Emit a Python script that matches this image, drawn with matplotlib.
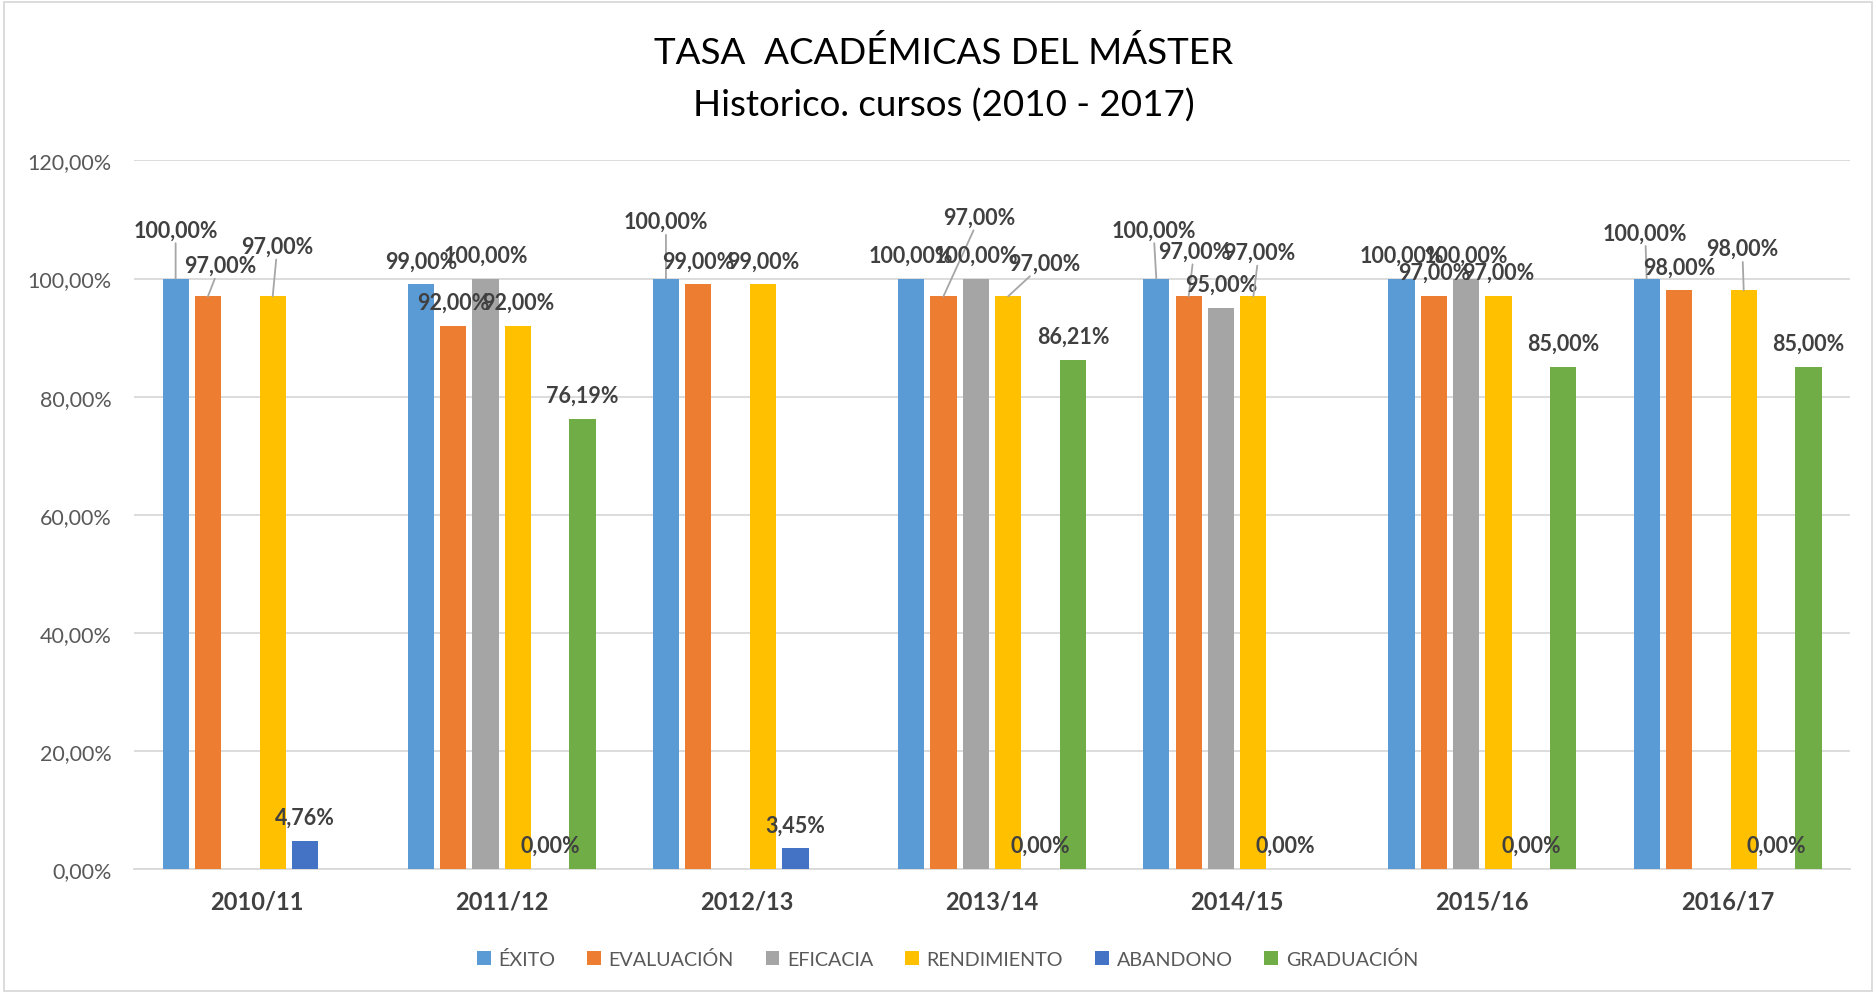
import numpy as np
import matplotlib
matplotlib.use('Agg')
import matplotlib.pyplot as plt
from matplotlib.patches import Rectangle
from matplotlib.ticker import FuncFormatter

plt.rcParams['font.family'] = ['Lato', 'DejaVu Sans']

# data (percent)
categories = ['2010/11', '2011/12', '2012/13', '2013/14', '2014/15', '2015/16', '2016/17']
series_names = ['ÉXITO', 'EVALUACIÓN', 'EFICACIA', 'RENDIMIENTO', 'ABANDONO', 'GRADUACIÓN']
exito = [100, 99, 100, 100, 100, 100, 100]
evaluacion = [97, 92, 99, 97, 97, 97, 98]
eficacia = [np.nan, 100, np.nan, 100, 95, 100, np.nan]
rendimiento = [97, 92, 99, 97, 97, 97, 98]
abandono = [4.76, 0, 3.45, 0, 0, 0, 0]
graduacion = [np.nan, 76.19, np.nan, 86.21, np.nan, 85, 85]

colors = ['#5B9BD5', '#ED7D31', '#A5A5A5', '#FFC000', '#4472C4', '#70AD47']

# manually moved labels (category, series) -> extra offset in points, with leader line
label_moves = {
    (0, 0): (0, 18), (0, 1): (8.6, 5.2), (0, 3): (3.4, 19),
    (2, 0): (0, 24),
    (3, 1): (26, 40), (3, 3): (26, 7),
    (4, 0): (-2, 18), (4, 1): (4, 15.5), (4, 3): (4, 14.6),
    (6, 0): (-1, 16), (6, 3): (-1, 13),
}

all_series = [exito, evaluacion, eficacia, rendimiento, abandono, graduacion]

fig = plt.figure(figsize=(18.76, 9.95), dpi=100)
ax = fig.add_axes([0.0714, 0.1258, 0.9148, 0.7119])

x = np.arange(len(categories))
step = 0.132
width = 0.107
label_color = '#404040'

for j, (name, vals) in enumerate(zip(series_names, all_series)):
    pos = x + (j - 2.5) * step
    ax.bar(pos, vals, width=width, color=colors[j], label=name, zorder=3)
    for i, v in enumerate(vals):
        if np.isnan(v):
            continue
        txt = f'{v:.2f}'.replace('.', ',') + '%'
        dx, dy = label_moves.get((i, j), (0, 0))
        kw = {}
        if (i, j) in label_moves:
            kw['arrowprops'] = dict(arrowstyle='-', color='#A6A6A6', lw=1.3,
                                    shrinkA=0, shrinkB=0)
        ax.annotate(txt, (pos[i], v), xytext=(dx, 17 + dy), textcoords='offset points',
                    ha='center', va='center', fontsize=15.5, fontweight='bold',
                    color=label_color, zorder=5, **kw)

ax.set_xlim(-0.5, len(categories) - 0.5)
ax.set_ylim(0, 120)
ax.set_yticks(np.arange(0, 121, 20))
ax.yaxis.set_major_formatter(FuncFormatter(lambda v, p: f'{v:.2f}'.replace('.', ',') + '%'))
ax.set_xticks(x)
ax.set_xticklabels(categories, fontsize=17, fontweight='bold', color=label_color)
ax.tick_params(axis='y', labelsize=15.5, labelcolor='#595959', length=0, pad=16)
ax.tick_params(axis='x', length=0, pad=15)
ax.grid(axis='y', color='#D9D9D9', lw=1.3, zorder=0)
for s in ['top', 'right', 'left']:
    ax.spines[s].set_visible(False)
ax.spines['bottom'].set_color('#D9D9D9')
ax.spines['bottom'].set_linewidth(1.3)

fig.text(0.503, 0.947, 'TASA  ACADÉMICAS DEL MÁSTER', ha='center', va='center',
         fontsize=26.5, color='#000000')
fig.text(0.503, 0.894, 'Historico. cursos (2010 - 2017)', ha='center', va='center',
         fontsize=26.5, color='#000000')

fig.legend(loc='center', bbox_to_anchor=(0.505, 0.035), ncol=6, frameon=False,
           fontsize=14.2, handlelength=0.7, handleheight=0.7, handletextpad=0.4,
           columnspacing=1.6, labelcolor='#595959')

fig.patches.append(Rectangle((0.002, 0.003), 0.996, 0.994, transform=fig.transFigure,
                             fill=False, edgecolor='#D9D9D9', lw=1.3))

fig.savefig('out.png', dpi=100)
